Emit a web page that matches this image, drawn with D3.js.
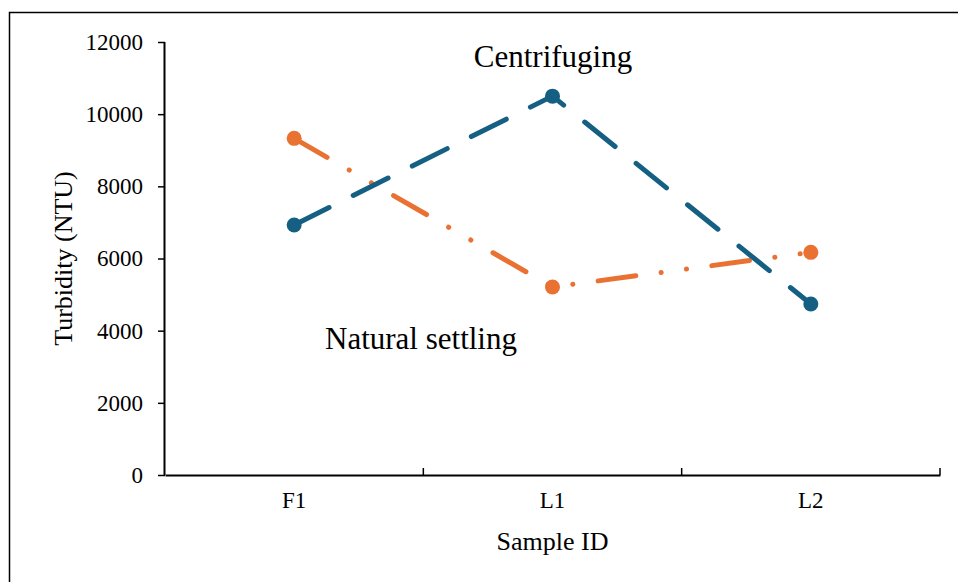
<!DOCTYPE html>
<html>
<head>
<meta charset="utf-8">
<script src="https://cdn.jsdelivr.net/npm/d3@7"></script>
<style>
  body { margin: 0; background: #fff; }
  svg text { font-family: "Liberation Serif", "DejaVu Serif", serif; fill: #000; }
</style>
</head>
<body>
<script>
// sample IDs and turbidity readings (NTU)
var categories = ["F1", "L1", "L2"];
var centrifuging = [6930, 10500, 4740];
var naturalSettling = [9330, 5210, 6170];
var yTicks = [0, 2000, 4000, 6000, 8000, 10000, 12000];

var width = 958, height = 582;
var margin = {top: 42, right: 18, bottom: 107, left: 165};
var serif = "'Liberation Serif', 'DejaVu Serif', serif";

var svg = d3.select("body").append("svg")
    .attr("width", width)
    .attr("height", height)
    .attr("font-family", serif);

// outer frame (runs off the right and bottom edges)
svg.append("rect")
    .attr("x", 9.5).attr("y", 12.5)
    .attr("width", 1000).attr("height", 700)
    .attr("fill", "none")
    .attr("stroke", "#000")
    .attr("stroke-width", 1.5);

// set the ranges
var x = d3.scaleBand().domain(categories).range([margin.left, width - margin.right]);
var y = d3.scaleLinear().domain([0, 12000]).range([height - margin.bottom, margin.top]);

// Y axis
var yAxis = svg.append("g")
    .attr("transform", "translate(" + margin.left + ",0)")
    .call(d3.axisLeft(y).tickValues(yTicks).tickSize(7).tickPadding(15).tickFormat(d3.format("d")))
    .attr("font-family", serif)
    .attr("font-size", 23);
yAxis.select(".domain").attr("stroke-width", 2).attr("d", "M-0.5," + y(12000) + "V" + y(0));
yAxis.selectAll(".tick line").attr("stroke-width", 1.5);

// X axis: labels centred in bands, ticks on band edges pointing up
var xAxis = svg.append("g")
    .attr("transform", "translate(0," + y(0) + ")")
    .call(d3.axisBottom(x).tickSize(0).tickPadding(17))
    .attr("font-family", serif)
    .attr("font-size", 23);
xAxis.select(".domain").attr("stroke-width", 2);
var edges = categories.map(function(c) { return x(c) + x.bandwidth(); });
xAxis.selectAll(".edge")
    .data(edges)
  .enter().append("line")
    .attr("x1", function(d) { return d; })
    .attr("x2", function(d) { return d; })
    .attr("y1", 0).attr("y2", -7)
    .attr("stroke", "#000")
    .attr("stroke-width", 1.5);

var cx = function(d, i) { return x(categories[i]) + x.bandwidth() / 2; };
var line = d3.line().x(cx).y(function(d) { return y(d); });

var series = [
  {values: naturalSettling, color: "#E97132", dash: "38,25.5,0.1,25.5,0.1,25.5"},
  {values: centrifuging, color: "#156082", dash: "39,27"}
];

series.forEach(function(s) {
  svg.append("path")
      .datum(s.values)
      .attr("d", line)
      .attr("fill", "none")
      .attr("stroke", s.color)
      .attr("stroke-width", 5)
      .attr("stroke-linecap", "round")
      .attr("stroke-dasharray", s.dash);

  svg.selectAll(null)
      .data(s.values)
    .enter().append("circle")
      .attr("cx", cx)
      .attr("cy", function(d) { return y(d); })
      .attr("r", 7.5)
      .attr("fill", s.color);
});

// series labels
svg.append("text")
    .attr("x", 553).attr("y", 67)
    .attr("text-anchor", "middle")
    .style("font-size", "31px")
    .text("Centrifuging");

svg.append("text")
    .attr("x", 421).attr("y", 349)
    .attr("text-anchor", "middle")
    .style("font-size", "31px")
    .text("Natural settling");

// axis titles
svg.append("text")
    .attr("transform", "translate(72," + (y(0) + y(12000)) / 2 + ") rotate(-90)")
    .attr("text-anchor", "middle")
    .style("font-size", "26px")
    .text("Turbidity (NTU)");

svg.append("text")
    .attr("x", (margin.left + width - margin.right) / 2)
    .attr("y", 550)
    .attr("text-anchor", "middle")
    .style("font-size", "26px")
    .text("Sample ID");
</script>
</body>
</html>
